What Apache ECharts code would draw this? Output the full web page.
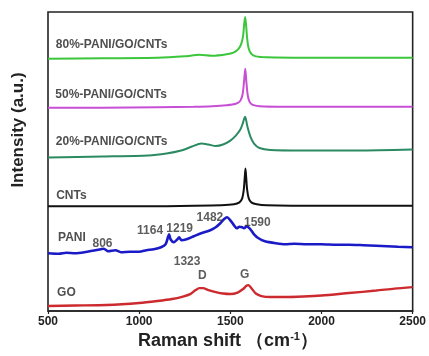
<!DOCTYPE html>
<html>
<head>
<meta charset="utf-8">
<script src="https://cdn.jsdelivr.net/npm/echarts@6/dist/echarts.min.js"></script>
<style>
  html, body { margin: 0; padding: 0; background: #fff; }
  #chart { width: 429px; height: 356px; }
</style>
</head>
<body>
<div id="chart"></div>
<script>
// Raman shift axis (cm-1)
const shiftTicks = [500, 1000, 1500, 2000, 2500];

// Stacked Raman spectra, intensity in arbitrary units (offset per sample)
const p80_x = [500, 800, 1100, 1250, 1330, 1400, 1480, 1520, 1545, 1560, 1570, 1576, 1581, 1586, 1592, 1600, 1615, 1640, 1700, 1900, 2200, 2500];
const p80_y = [253, 253.5, 254, 255.5, 257, 256, 257.5, 259.5, 263, 268, 276, 288, 295, 288, 274, 264, 258, 255.5, 254.5, 254, 254, 254];

const p50_x = [500, 800, 1100, 1300, 1400, 1480, 1530, 1555, 1568, 1576, 1582, 1588, 1595, 1605, 1620, 1660, 1800, 2100, 2500];
const p50_y = [204, 204, 204.5, 205, 205.5, 206.5, 208, 211, 218, 232, 243, 230, 217, 210, 207, 205.5, 205, 205, 205];

const p20_x = [500, 800, 1050, 1150, 1230, 1290, 1340, 1380, 1420, 1460, 1500, 1530, 1555, 1568, 1576, 1581, 1586, 1595, 1610, 1630, 1660, 1720, 1900, 2200, 2500];
const p20_y = [154, 155, 156, 158, 161, 165, 168, 167, 165.5, 167, 171, 176, 182, 188, 193, 195, 192, 184, 175, 168, 163.5, 161.5, 161, 161, 162];

const cnt_x = [500, 1000, 1300, 1450, 1520, 1550, 1565, 1574, 1579, 1583, 1587, 1592, 1601, 1615, 1645, 1700, 2000, 2500];
const cnt_y = [105, 105, 105.5, 106, 107, 109, 113, 122, 134, 143, 134, 122, 113, 109, 107, 106, 105.5, 105.5];

const pani_x = [500, 560, 600, 650, 700, 760, 790, 806, 830, 870, 900, 950, 1000, 1040, 1080, 1120, 1145, 1158, 1164, 1172, 1190, 1210, 1219, 1232, 1260, 1300, 1340, 1390, 1420, 1445, 1465, 1482, 1500, 1520, 1535, 1550, 1565, 1575, 1590, 1610, 1630, 1655, 1690, 1750, 1800, 1850, 1920, 2000, 2080, 2150, 2230, 2300, 2360, 2420, 2500];
const pani_y = [58, 57.5, 58.5, 58, 59, 61, 62, 62.5, 60, 61, 59, 59.5, 59.5, 61, 62, 64, 67, 74, 77, 72, 69, 72, 74, 71, 72, 75, 78, 81, 84, 88, 92, 94, 91, 86, 83, 84.5, 84, 83, 85, 82, 77, 73, 70, 68, 67, 67.5, 67, 67, 66.5, 66.5, 66, 65.5, 65, 64.5, 64];

const go_x = [500, 650, 820, 1000, 1100, 1180, 1240, 1280, 1310, 1330, 1350, 1380, 1420, 1460, 1500, 1540, 1570, 1590, 1600, 1615, 1640, 1670, 1720, 1800, 1900, 2000, 2150, 2300, 2400, 2500];
const go_y = [5, 5.5, 6, 8, 10, 12, 14.5, 17, 21, 23, 23, 21, 19, 17.5, 17, 18.5, 22, 25.5, 26, 23, 17.5, 15, 14, 14, 14.5, 15.5, 18, 20.5, 22.5, 24];

// Sample names and peak annotations, anchored in data coordinates
const sampleNames = ['80%-PANI/GO/CNTs', '50%-PANI/GO/CNTs', '20%-PANI/GO/CNTs', 'CNTs', 'PANI', 'GO'];
const sampleLabelX = [543, 540, 543, 545, 555, 550];
const sampleLabelY = [267, 217, 170, 116, 74, 18];

const peakText = ['806', '1164', '1219', '1482', '1590', '1323', 'D', 'G'];
const peakX = [799, 1060, 1222, 1388, 1648, 1263, 1346, 1578];
const peakY = [68, 81, 83, 94, 89, 49, 35, 36];

const zip = (xs, ys) => xs.map((x, i) => [x, ys[i]]);

const spectra = [
  { x: p80_x, y: p80_y, color: '#3cc63c' },
  { x: p50_x, y: p50_y, color: '#c64fd6' },
  { x: p20_x, y: p20_y, color: '#2b8a62' },
  { x: cnt_x, y: cnt_y, color: '#111111' },
  { x: pani_x, y: pani_y, color: '#1a1ac6', width: 2.6 },
  { x: go_x, y: go_y, color: '#cc2a2e', width: 2.4 }
];

const lineSeries = spectra.map(s => ({
  type: 'line',
  data: zip(s.x, s.y),
  showSymbol: false,
  symbol: 'none',
  smooth: 0.25,
  lineStyle: { color: s.color, width: s.width || 2 },
  silent: true,
  z: 2
}));

const nameSeries = {
  type: 'scatter',
  symbolSize: 0,
  silent: true,
  data: sampleNames.map((t, i) => [sampleLabelX[i], sampleLabelY[i], t]),
  label: {
    show: true,
    position: 'inside',
    align: 'left',
    verticalAlign: 'middle',
    formatter: p => p.data[2],
    fontFamily: '"Liberation Sans", Arial, sans-serif',
    fontWeight: 'bold',
    fontSize: 12,
    color: '#222'
  },
  z: 5
};

const peakSeries = {
  type: 'scatter',
  symbolSize: 0,
  silent: true,
  data: peakText.map((t, i) => [peakX[i], peakY[i], t]),
  label: {
    show: true,
    position: 'inside',
    align: 'center',
    verticalAlign: 'middle',
    formatter: p => p.data[2],
    fontFamily: '"Liberation Sans", Arial, sans-serif',
    fontWeight: 'bold',
    fontSize: 12,
    color: '#333'
  },
  z: 5
};

const chart = echarts.init(document.getElementById('chart'), null, { renderer: 'canvas' });
chart.setOption({
  animation: false,
  backgroundColor: '#fff',
  grid: {
    left: 48, right: 13, top: 12, bottom: 45,
    show: true, borderColor: '#222', borderWidth: 1.6, backgroundColor: 'transparent'
  },
  xAxis: {
    type: 'value',
    min: shiftTicks[0],
    max: shiftTicks[shiftTicks.length - 1],
    interval: 500,
    axisLine: { show: true, lineStyle: { color: '#222', width: 1.6 } },
    axisTick: { show: true, inside: false, length: 3, lineStyle: { color: '#222', width: 1.2 } },
    axisLabel: {
      margin: 5,
      formatter: v => String(v),
      fontFamily: '"Liberation Sans", Arial, sans-serif',
      fontWeight: 'bold',
      fontSize: 12,
      color: '#222'
    },
    splitLine: { show: false }
  },
  yAxis: {
    type: 'value',
    min: 0,
    max: 300,
    axisLine: { show: false },
    axisTick: { show: false },
    axisLabel: { show: false },
    splitLine: { show: false }
  },
  graphic: [
    {
      type: 'text',
      x: 228, y: 341,
      style: {
        text: '{a|Raman shift （cm}{s|-1}{a|）}',
        align: 'center',
        verticalAlign: 'middle',
        rich: {
          a: { fontFamily: '"Liberation Sans", Arial, sans-serif', fontWeight: 'bold', fontSize: 18, fill: '#222' },
          s: { fontFamily: '"Liberation Sans", Arial, sans-serif', fontWeight: 'bold', fontSize: 11, fill: '#222', verticalAlign: 'top', padding: [0, 0, 8, 0] }
        }
      }
    },
    {
      type: 'text',
      x: 18, y: 130,
      rotation: Math.PI / 2,
      style: {
        text: 'Intensity (a.u.)',
        align: 'center',
        verticalAlign: 'middle',
        fontFamily: '"Liberation Sans", Arial, sans-serif',
        fontWeight: 'bold',
        fontSize: 17,
        fill: '#222'
      }
    }
  ],
  series: [...lineSeries, nameSeries, peakSeries]
});
</script>
</body>
</html>
